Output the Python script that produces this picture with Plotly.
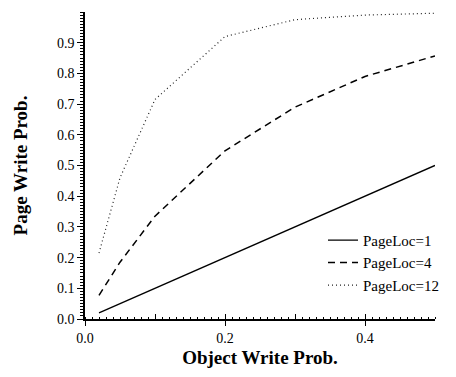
import plotly.graph_objects as go

# Object write probability (x) and resulting page write probability per page locality
object_write_prob = [0.02, 0.05, 0.1, 0.2, 0.3, 0.4, 0.5]
pageloc_1 = [0.02, 0.05, 0.10, 0.20, 0.30, 0.40, 0.50]
pageloc_4 = [0.077, 0.185, 0.335, 0.548, 0.69, 0.79, 0.857]
pageloc_12 = [0.215, 0.46, 0.715, 0.92, 0.975, 0.99, 0.996]

series_names = ["PageLoc=1", "PageLoc=4", "PageLoc=12"]
y_tick_vals = [0.0, 0.1, 0.2, 0.3, 0.4, 0.5, 0.6, 0.7, 0.8, 0.9]
x_tick_vals = [0.0, 0.2, 0.4]

FONT = "Liberation Serif"

fig = go.Figure()
fig.add_trace(go.Scatter(x=object_write_prob, y=pageloc_1, mode="lines", name=series_names[0],
                         line=dict(color="black", width=1.4, dash="solid")))
fig.add_trace(go.Scatter(x=object_write_prob, y=pageloc_4, mode="lines", name=series_names[1],
                         line=dict(color="black", width=1.5, dash="7px,5px")))
fig.add_trace(go.Scatter(x=object_write_prob, y=pageloc_12, mode="lines", name=series_names[2],
                         line=dict(color="#222222", width=1.2, dash="1px,3px")))

# secondary x axis carries the unlabeled 0.1-spaced inner ticks
fig.add_trace(go.Scatter(x=[0, 0.5], y=[0, 0], xaxis="x2", mode="none",
                         showlegend=False, hoverinfo="skip"))

fig.update_layout(
    width=456, height=377,
    margin=dict(l=85, r=21, t=12, b=49),
    paper_bgcolor="white", plot_bgcolor="white",
    font=dict(family=FONT, color="black", size=14),
    showlegend=True,
    legend=dict(x=0.68, y=0.31, xanchor="left", yanchor="top",
                bgcolor="rgba(0,0,0,0)", font=dict(family=FONT, size=15),
                tracegroupgap=0, itemwidth=30),
    xaxis=dict(range=[0, 0.5], showgrid=False, zeroline=False,
               showline=True, linecolor="black", linewidth=1.5,
               tickmode="array", tickvals=x_tick_vals,
               ticktext=[f"{v:.1f}" for v in x_tick_vals],
               ticks="outside", ticklen=5, tickwidth=1.3, tickcolor="black",
               minor=dict(dtick=0.01, ticks="inside", ticklen=2, tickwidth=1, tickcolor="black"),
               tickfont=dict(family=FONT, size=14),
               title=dict(text="<b>Object Write Prob.</b>", font=dict(family=FONT, size=19), standoff=6)),
    xaxis2=dict(range=[0, 0.5], overlaying="x", side="bottom", anchor="y",
                showgrid=False, zeroline=False, showline=False,
                tickmode="array", tickvals=[0.1, 0.2, 0.3, 0.4, 0.5],
                ticks="inside", ticklen=5, tickwidth=1.3, tickcolor="black",
                showticklabels=False),
    yaxis=dict(range=[0, 1.0], showgrid=False, zeroline=False,
               showline=True, linecolor="black", linewidth=1.5,
               tickmode="array", tickvals=y_tick_vals,
               ticktext=[f"{v:.1f}" for v in y_tick_vals],
               ticks="outside", ticklen=6, tickwidth=1.3, tickcolor="black",
               minor=dict(dtick=0.01, ticks="outside", ticklen=3, tickwidth=1, tickcolor="black"),
               tickfont=dict(family=FONT, size=14),
               title=dict(text="<b>Page Write Prob.</b>", font=dict(family=FONT, size=19), standoff=24)),
)

fig.write_html("out.html")
